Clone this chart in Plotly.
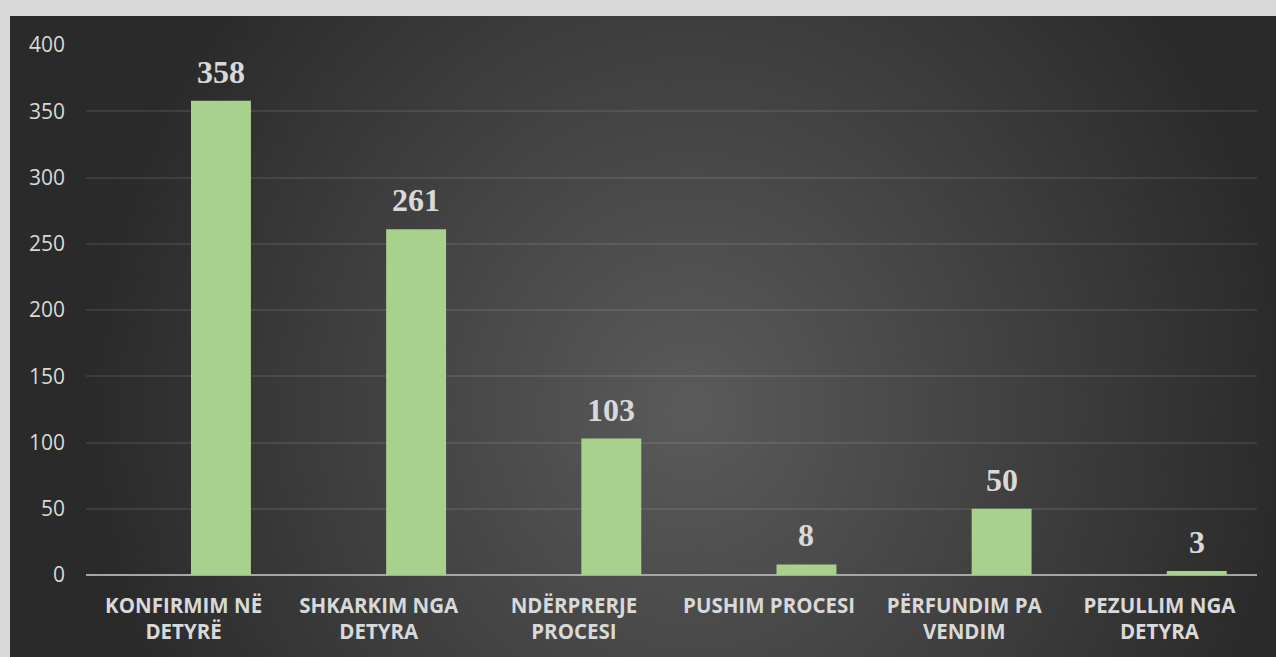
import plotly.graph_objects as go

categories = [
    "KONFIRMIM NË<br>DETYRË",
    "SHKARKIM NGA<br>DETYRA",
    "NDËRPRERJE<br>PROCESI",
    "PUSHIM PROCESI",
    "PËRFUNDIM PA<br>VENDIM",
    "PEZULLIM NGA<br>DETYRA",
]
values = [358, 261, 103, 8, 50, 3]
y_ticks = [0, 50, 100, 150, 200, 250, 300, 350, 400]

BAR_COLOR = "#A9D18E"
TEXT_COLOR = "#D9D9D9"
BORDER_COLOR = "#D9D9D9"
BAR_WIDTH = 0.307
BAR_OFFSET = 0.038

W, H = 1276, 657
ML, MR, MT, MB = 86, 19, 45, 82
AREA_LEFT, AREA_TOP = 10, 16

fig = go.Figure()
fig.add_trace(go.Bar(
    x=categories, y=values,
    marker=dict(color=BAR_COLOR, line=dict(width=0)),
    width=BAR_WIDTH, offset=BAR_OFFSET,
    hoverinfo="x+y",
))

for i, v in enumerate(values):
    fig.add_annotation(
        x=i + BAR_OFFSET + BAR_WIDTH / 2, y=v, xref="x", yref="y",
        text=f"<b>{v}</b>", showarrow=False, yanchor="bottom", yshift=9,
        font=dict(family="Liberation Serif, Times New Roman, serif", size=32, color=TEXT_COLOR),
    )

# pixel -> paper helpers
pw = W - ML - MR
ph = H - MT - MB
def px_x(p):
    return (p - ML) / pw
def px_y(p):
    return (H - MB - p) / ph

# radial gradient background built from concentric ellipses
cx, cy = 690, 410
rx, ry = 610, 660
c_in, c_out = 0x5B, 0x2A
N = 49
fig.add_shape(type="rect", xref="paper", yref="paper",
              x0=px_x(0), x1=px_x(W), y0=px_y(H), y1=px_y(0),
              fillcolor="#%02x%02x%02x" % (c_out, c_out, c_out), line=dict(width=0), layer="below")
for k in range(N):
    t = 1 - k / N
    c = round(c_out + (c_in - c_out) * (1 - t))
    fig.add_shape(type="circle", xref="paper", yref="paper",
                  x0=px_x(cx - rx * t), x1=px_x(cx + rx * t),
                  y0=px_y(cy + ry * t), y1=px_y(cy - ry * t),
                  fillcolor="#%02x%02x%02x" % (c, c, c), line=dict(width=0), layer="below")
# light border (top and left)
fig.add_shape(type="rect", xref="paper", yref="paper",
              x0=px_x(-5), x1=px_x(W + 5), y0=px_y(AREA_TOP), y1=px_y(-5),
              fillcolor=BORDER_COLOR, line=dict(width=0), layer="below")
fig.add_shape(type="rect", xref="paper", yref="paper",
              x0=px_x(-5), x1=px_x(AREA_LEFT), y0=px_y(H + 5), y1=px_y(-5),
              fillcolor=BORDER_COLOR, line=dict(width=0), layer="below")

fig.update_layout(
    width=W, height=H,
    margin=dict(l=ML, r=MR, t=MT, b=MB),
    paper_bgcolor=BORDER_COLOR,
    plot_bgcolor="rgba(0,0,0,0)",
    showlegend=False,
    font=dict(family="Open Sans, sans-serif", color=TEXT_COLOR),
)
fig.update_xaxes(
    type="category", showgrid=False, zeroline=False, showline=False,
    tickfont=dict(family="Open Sans, sans-serif", size=20.5, color=TEXT_COLOR, weight="bold"),
    ticklabelstandoff=16,
)
fig.update_yaxes(
    range=[0, 400], tickvals=y_ticks, showgrid=True,
    gridcolor="rgba(255,255,255,0.09)", gridwidth=1.5,
    zeroline=True, zerolinecolor="#A6A6A6", zerolinewidth=2,
    showline=False,
    tickfont=dict(family="Open Sans, sans-serif", size=21, color=TEXT_COLOR),
    ticklabelstandoff=20,
)

fig.write_html("out.html", config={"displayModeBar": False},
               post_script="document.body.style.margin='0';document.body.style.overflow='hidden';")
